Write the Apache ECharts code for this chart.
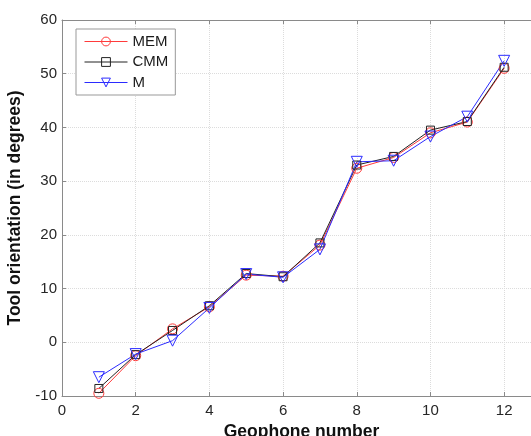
<!DOCTYPE html>
<html>
<head>
<meta charset="utf-8">
<script src="https://cdn.jsdelivr.net/npm/echarts@6/dist/echarts.min.js"></script>
<style>
html, body { margin: 0; padding: 0; background: #fff; }
#chart { width: 531px; height: 436px; }
</style>
</head>
<body>
<div id="chart"></div>
<script>
// geophone numbers and tool orientation per method (degrees)
const geophones = [1, 2, 3, 4, 5, 6, 7, 8, 9, 10, 11, 12]
const memValues = [-9.5, -2.5, 2.5, 6.6, 12.5, 12.3, 18.1, 32.4, 34.4, 39.0, 41.0, 51.0]
const cmmValues = [-8.6, -2.3, 2.2, 6.8, 12.8, 12.2, 18.5, 33.0, 34.6, 39.5, 41.1, 51.2]
const mValues = [-6.5, -2.2, 0.3, 6.4, 12.7, 12.1, 17.3, 33.6, 33.8, 38.3, 42.0, 52.4]
const xTicks = [0, 2, 4, 6, 8, 10, 12]
const yTicks = [-10, 0, 10, 20, 30, 40, 50, 60]

const font = 'Liberation Sans, Arial, sans-serif'
const axisGray = '#8a8a8a'

function pairs(vals) {
    return geophones.map(function (g, i) { return [g, vals[i]] })
}

function makeSeries(name, vals, color, symbol, size, rotate) {
    return {
        name: name,
        type: 'line',
        data: pairs(vals),
        symbol: symbol,
        symbolSize: size,
        symbolRotate: rotate || 0,
        showAllSymbol: true,
        color: color,
        lineStyle: { color: color, width: 1 },
        itemStyle: { color: 'rgba(255,255,255,0)', borderColor: color, borderWidth: 1 },
        emphasis: { disabled: true },
        animation: false
    }
}

const chart = echarts.init(document.getElementById('chart'))
chart.setOption({
    backgroundColor: '#fff',
    animation: false,
    grid: { left: 62, right: -10, top: 20, bottom: 40, containLabel: false, outerBoundsMode: 'none' },
    legend: {
        left: 76,
        top: 29,
        orient: 'vertical',
        itemWidth: 43,
        itemHeight: 11,
        itemGap: 5.5,
        padding: [5, 7, 5, 8],
        borderColor: '#999',
        borderWidth: 1,
        backgroundColor: '#fff',
        itemStyle: { borderWidth: 1 },
        lineStyle: { width: 1 },
        textStyle: { fontFamily: font, fontSize: 15, color: '#1a1a1a' },
        data: ['MEM', 'CMM', 'M']
    },
    xAxis: [{
        type: 'value',
        min: 0,
        max: 13,
        interval: 2,
        name: 'Geophone number',
        nameLocation: 'middle',
        nameGap: 24,
        nameTextStyle: { fontFamily: font, fontSize: 17.5, fontWeight: 'bold', color: '#111' },
        axisLine: { show: true, onZero: false, lineStyle: { color: axisGray } },
        axisTick: { show: true, inside: true, length: 4, lineStyle: { color: axisGray } },
        axisLabel: {
            fontFamily: font, fontSize: 15, color: '#262626', margin: 7,
            formatter: function (v) { return xTicks.indexOf(v) >= 0 ? String(v) : '' }
        },
        splitLine: { show: true, lineStyle: { color: '#dcdcdc', type: 'dotted' } }
    }, {
        type: 'value',
        position: 'top',
        min: 0,
        max: 13,
        interval: 2,
        axisLine: { show: true, onZero: false, lineStyle: { color: axisGray } },
        axisTick: { show: true, inside: true, length: 4, lineStyle: { color: axisGray } },
        axisLabel: { show: false },
        splitLine: { show: false }
    }],
    yAxis: {
        type: 'value',
        min: -10,
        max: 60,
        interval: 10,
        name: 'Tool orientation (in degrees)',
        nameLocation: 'middle',
        nameGap: 33,
        nameTextStyle: { fontFamily: font, fontSize: 17.5, fontWeight: 'bold', color: '#111' },
        axisLine: { show: true, onZero: false, lineStyle: { color: axisGray } },
        axisTick: { show: true, inside: true, length: 4, lineStyle: { color: axisGray } },
        axisLabel: {
            fontFamily: font, fontSize: 15, color: '#262626', margin: 5,
            formatter: function (v) { return yTicks.indexOf(v) >= 0 ? String(v) : '' }
        },
        splitLine: { show: true, lineStyle: { color: '#dcdcdc', type: 'dotted' } }
    },
    series: [
        makeSeries('MEM', memValues, '#ff3b3b', 'circle', 10),
        makeSeries('CMM', cmmValues, '#222', 'rect', 8),
        makeSeries('M', mValues, '#2b2bff', 'triangle', 11, 180)
    ]
})
</script>
</body>
</html>
